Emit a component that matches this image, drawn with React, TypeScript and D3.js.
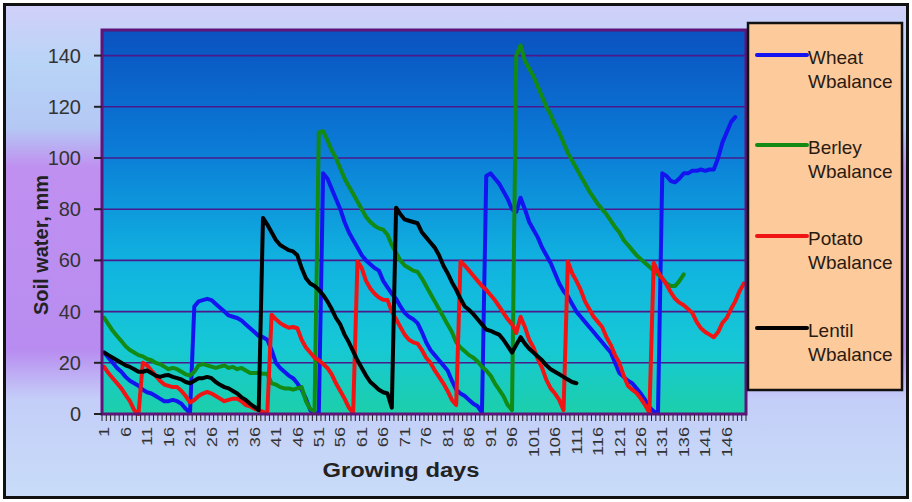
import React from 'react';
import * as d3 from 'd3';

const categories: number[] = d3.range(1, 151);
const xTickLabels = ['1','6','11','16','21','26','31','36','41','46','51','56','61','66','71','76','81','86','91','96','101','106','111','116','121','126','131','136','141','146'];
const yTicks = [0, 20, 40, 60, 80, 100, 120, 140];

const wheat = [24,22,20,18,16.5,14.5,13,12,11,9.5, 8.5,8,7,6,5,5,5.5,5,4,2, 0.5,42,44,44.5,45,44.5,43,41.5,40,38.5, 38,37.5,36.5,35,33.5,32,30.5,30,29,25, 20,18,16.5,15,14,12,9.5,6,1.5,0.5, 0.3,94,92,88,84,80,75,71,68,65, 62,60,58.5,57,56,52,49.5,47,45,42, 39.5,38,37,35.5,32,28,25,23,21,19, 17,13,9.5,8,7,5.5,4,3,0.5,93, 94,92,90,87,84,80,79,84.5,80,75, 72,69,65,62,59,55,51,48,46,43, 40,38,36,34,32,30,28,26,24,20, 16,14.5,13,12,10,8,5.5,2.7,1,0.3, 94,93,91,90.5,92,94,94,95,95,95.5, 95,95.5,95.5,100,106,110,114,116];
const barley = [37.6,35,32.5,30.5,28.5,26.5,25,24,23,22.5, 21.5,21,20,19.5,18.5,17.5,18,17.5,16.5,15.5, 15,16.5,19,19.5,19,18.5,18,18.5,19,18, 18.4,17.5,18,17,16,16,16,15.7,15.7,12, 11.5,10.5,10,10,9.5,10,10.5,5,2,1, 110,110.5,107,103,100,96,92,89,86,83, 80,77,75,73.5,72.5,72,70,66,63,60, 58,57,56,55.5,53,50,47,44,41,38, 35,32,28,26,24.5,23,22,20.5,18.5,17, 15,12,9.5,7,3.5,1.5,140,144,138,135, 132,128,124,120,117,113,110,106,102,99, 96,93,90,87,84.5,82,80,78,75.5,73, 71,68,66,64,62,60.5,59,57.5,56,54.5, 53,51,50,50,52,54.5];
const potato = [18.4,16,14,12,10,7.5,5,1.5,0,20, 19,17,15,13,11.5,11,10.5,10.5,9,7, 4.5,5.5,7,8,8.6,8,7,6,5,5.5, 6,6,5,3.5,3,2,1.5,0.8,0.2,38.8, 37,35.5,34.5,33.7,34,33.5,29,26,24,22, 21,19.5,18,15.5,12,9,6,2.5,0.5,59.6, 57,52,49,47,45.5,44.6,44.5,40,37,34, 31,29,28,27.5,25,22,20,17,14.5,12, 9,5.5,3.5,59.6,58,56,54,52,50,48.5, 46.5,44.5,42,39.5,37,35,31.7,38,34,29, 26,21.5,18,13.3,10,8,5.5,1.5,59.6,55, 52,48.5,44,41,38,36,34,30,27,23, 20,15,11,9.5,8.2,6,3.5,0.5,59,55.5, 53,50.5,47.5,45,43.5,42.5,41,39.5,36,33.5, 32,31,30,32,35.6,37.5,41,44,48,51];
const lentil = [24,23,22,21,20,19,18.4,17.5,16.5,16.5, 17,16,15,14.5,15,15.2,14.5,14,13.5,12.5, 12,13,14,14,14.5,14,12.5,11.4,10.5,10, 9,8,6.5,5.5,4,2.8,1.5,76.6,74,71, 68,66,65,64,63.5,62,57,53,51,50, 48.5,46.5,44,41,37.5,35,31,28,24.5,21, 18,15,12.5,11,9.5,8.5,8,2.5,80.6,78, 76,75.5,75,74.5,71,69,67,65,62,58, 55,51.5,48.5,45,42,40.7,39,37,35,33, 32.5,31.7,31,29,26.5,24,27,30,27.5,25.5, 24,22.5,21,19,17.5,16.5,15.5,14.5,13.5,12.5, 12];

const seriesNames = ['Wheat', 'Berley', 'Potato', 'Lentil'];
const seriesColors = ['#1414f0', '#128a14', '#f01414', '#000000'];
const seriesData = [wheat, barley, potato, lentil];

const FONT = '"Liberation Sans", Arial, sans-serif';

export default function App() {
  const W = 912, H = 502;
  const left = 102, right = 746, top = 30, bottom = 414;
  const x = d3.scaleBand<number>().domain(categories).range([left, right]).paddingInner(0).paddingOuter(0);
  const bw = x.bandwidth();
  const cx = (d: number) => (x(d) as number) + bw / 2;
  const y = d3.scaleLinear().domain([0, 150]).range([bottom, top]);
  const line = d3.line<number>().x((_, i) => cx(categories[i])).y((v) => y(v));

  const legendX = 748, legendY = 23, legendW = 154, legendH = 367;
  const legendRows = [57, 147, 238, 330];

  return (
    <svg width={W} height={H} style={{ position: 'absolute', left: 0, top: 0, display: 'block' }} fontFamily={FONT}>
      <defs>
        <linearGradient id="bg" x1="0" y1="0" x2="0" y2="1">
          <stop offset="0" stopColor="#d2d0fa" />
          <stop offset="0.12" stopColor="#b8d4f6" />
          <stop offset="0.25" stopColor="#b4c8f4" />
          <stop offset="0.33" stopColor="#c090f0" />
          <stop offset="0.7" stopColor="#b88cf0" />
          <stop offset="0.8" stopColor="#c4cef8" />
          <stop offset="1" stopColor="#c8dcf8" />
        </linearGradient>
        <linearGradient id="plotbg" x1="0" y1="0" x2="0" y2="1">
          <stop offset="0" stopColor="#0a52c0" />
          <stop offset="0.3" stopColor="#0b7ad6" />
          <stop offset="0.6" stopColor="#10b2e0" />
          <stop offset="0.82" stopColor="#16c8d6" />
          <stop offset="1" stopColor="#1ccfaa" />
        </linearGradient>
      </defs>
      <rect x={4.5} y={4.5} width={903} height={493} fill="url(#bg)" stroke="#111" strokeWidth={3} />

      {/* plot area */}
      <rect x={left} y={top} width={right - left} height={bottom - top} fill="url(#plotbg)" />
      {yTicks.filter((t) => t > 0).map((t) => (
        <line key={'g' + t} x1={left} x2={right} y1={y(t)} y2={y(t)} stroke="#4a1a8c" strokeWidth={1.6} />
      ))}

      {seriesData.map((s, i) => (
        <path key={seriesNames[i]} d={line(s) || ''} fill="none" stroke={seriesColors[i]} strokeWidth={4} strokeLinejoin="round" strokeLinecap="round" />
      ))}

      <rect x={left} y={top} width={right - left} height={bottom - top} fill="none" stroke="#5e1478" strokeWidth={3} />

      {/* y axis */}
      {yTicks.map((t) => (
        <g key={'y' + t}>
          <line x1={94} x2={left} y1={y(t)} y2={y(t)} stroke="#222" strokeWidth={2} />
          <text x={81} y={y(t)} textAnchor="end" dominantBaseline="central" fontSize={20} fill="#333">{t}</text>
        </g>
      ))}
      <text transform={`translate(41,${245}) rotate(-90)`} textAnchor="middle" dominantBaseline="central" fontSize={20} fontWeight="bold" fill="#222">Soil water, mm</text>

      {/* x axis */}
      {categories.map((c) => (
        <line key={'xt' + c} x1={(x(c) as number)} x2={(x(c) as number)} y1={415} y2={421} stroke="#222" strokeWidth={1} />
      ))}
      <line x1={right} x2={right} y1={415} y2={421} stroke="#222" strokeWidth={1} />
      {xTickLabels.map((l) => (
        <text key={'xl' + l} transform={`translate(${cx(+l)},427) rotate(-90) scale(1.3,1)`} textAnchor="end" dominantBaseline="central" fontSize={14} fill="#333">{l}</text>
      ))}
      <text x={401} y={477} textAnchor="middle" fontSize={20} fontWeight="bold" fill="#222" textLength={157} lengthAdjust="spacingAndGlyphs">Growing days</text>

      {/* legend */}
      <rect x={legendX} y={legendY} width={legendW} height={legendH} fill="#fdca9c" stroke="#111" strokeWidth={2.5} />
      {seriesNames.map((n, i) => (
        <g key={'lg' + n}>
          <line x1={757} x2={807} y1={legendRows[i] - 2} y2={legendRows[i] - 2} stroke={seriesColors[i]} strokeWidth={4} strokeLinecap="round" />
          <text x={808} y={legendRows[i]} dominantBaseline="central" fontSize={19} fill="#2a1a10">{n}</text>
          <text x={808} y={legendRows[i] + 24} dominantBaseline="central" fontSize={19} fill="#2a1a10">Wbalance</text>
        </g>
      ))}
    </svg>
  );
}
